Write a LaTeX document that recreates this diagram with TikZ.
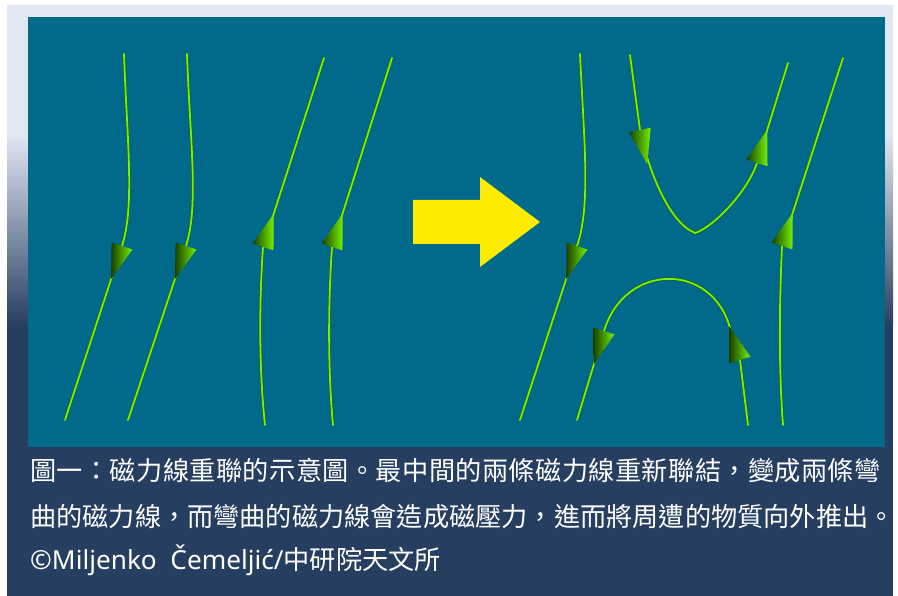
\documentclass[tikz,border=0pt]{standalone}
\usepackage{fontspec}
\newfontfamily\capfont{Noto Sans CJK TC}
\newfontfamily\latfont{Noto Sans}
\usetikzlibrary{calc}
\definecolor{cFrameTop}{RGB}{225, 231, 243}
\definecolor{cFrameBot}{RGB}{38,  62,  96}
\definecolor{cPanel}   {RGB}{1,   105, 137}
\definecolor{cLine}    {RGB}{118, 242, 0}
\definecolor{cEdge}    {RGB}{40,  90,  20}
\definecolor{cConeDark}{RGB}{25,  65,  0}
\definecolor{cYellow}  {RGB}{254, 236, 0}
\tikzset{
  field/.style  = {preaction={draw=cEdge, line width=2.9pt}, draw=cLine,
                   line width=1.8pt, line cap=round},
  cone/.style   = {left color=cConeDark, middle color=cLine!92!black,
                   right color=cLine},
  caption/.style= {font=\capfont\fontsize{26.2}{30}\selectfont, text=white,
                   anchor=base west, inner sep=0pt},
}
% cone head on a field line: #1 = base centre, #2 = point it aims at
\newcommand{\fieldcone}[2]{%
  \shade[cone] ($#1!35pt!#2$) -- ($#1!11pt!90:#2$) -- ($#1!11pt!-90:#2$) -- cycle;}

\begin{document}
\begin{tikzpicture}[x=1pt, y=-1pt]
\useasboundingbox (0,0) rectangle (898,596);
\fill[white] (0,0) rectangle (898,596);

%% ─── Frame: light at the top, fading into navy ───────────────────
\fill[cFrameTop] (7,5) rectangle (893,136);
\shade[top color=cFrameTop, bottom color=cFrameBot] (7,135) rectangle (893,326);
\fill[cFrameBot] (7,325) rectangle (893,596);

\fill[cPanel] (28,17) rectangle (885,447);

%% ════════════════════════════════════════════
%%  LEFT: before reconnection
%% ════════════════════════════════════════════
\draw[field] (124,54) .. controls (127,140) and (135,206) .. (122,246) -- (65,420);
\draw[field] (187,54) .. controls (190,140) and (199,206) .. (186,246) -- (128,420);
\draw[field] (324,58) -- (263,247) .. controls (260,290) and (258,360) .. (265,425);
\draw[field] (392,58) -- (332,247) .. controls (329,290) and (327,360) .. (333,425);

\fieldcone{(122,246)}{(65,420)}
\fieldcone{(186,246)}{(128,420)}
\fieldcone{(263,247)}{(324,58)}
\fieldcone{(332,247)}{(392,58)}

%% ─── Yellow arrow ────────────────────────────────────────────────
\fill[cYellow] (413,200) -- (480,200) -- (480,177) -- (540,222)
  -- (480,267) -- (480,244) -- (413,244) -- cycle;

%% ════════════════════════════════════════════
%%  RIGHT: after reconnection
%% ════════════════════════════════════════════
\draw[field] (580,54) .. controls (584,140) and (591,206) .. (577,246) -- (520,420);
\draw[field] (843,58) -- (782,246) .. controls (780,290) and (778,360) .. (783,425);

% upper bent line
\draw[field] (630,55) -- (640,130) .. controls (648,168) and (668,222) .. (695,233)
  .. controls (712,228) and (747,193) .. (757,163) -- (788,63);
% lower bent line
\draw[field] (577,420) -- (604,331) .. controls (625,262) and (712,262) .. (730,328)
  -- (740,360) -- (748,425);

\fieldcone{(577,246)}{(520,420)}
\fieldcone{(782,246)}{(843,58)}
\fieldcone{(640,130)}{(648,168)}
\fieldcone{(757,163)}{(788,63)}
\fieldcone{(604,331)}{(577,420)}
\fieldcone{(740,360)}{(730,328)}

%% ─── Caption ─────────────────────────────────────────────────────
\node[caption] (cap1) at (30,480)
  {\addfontfeature{LetterSpace=1.5}圖一：磁力線重聯的示意圖。最中間的兩條磁力線重新聯結，變成兩條彎};
\node[caption] (cap2) at (30,526)
  {曲的磁力線，而彎曲的磁力線會造成磁壓力，進而將周遭的物質向外推出。};
\node[caption] (cap3) at (30,569)
  {{\latfont ©Miljenko\ \ Čemeljić/}中研院天文所};

\end{tikzpicture}
\end{document}
